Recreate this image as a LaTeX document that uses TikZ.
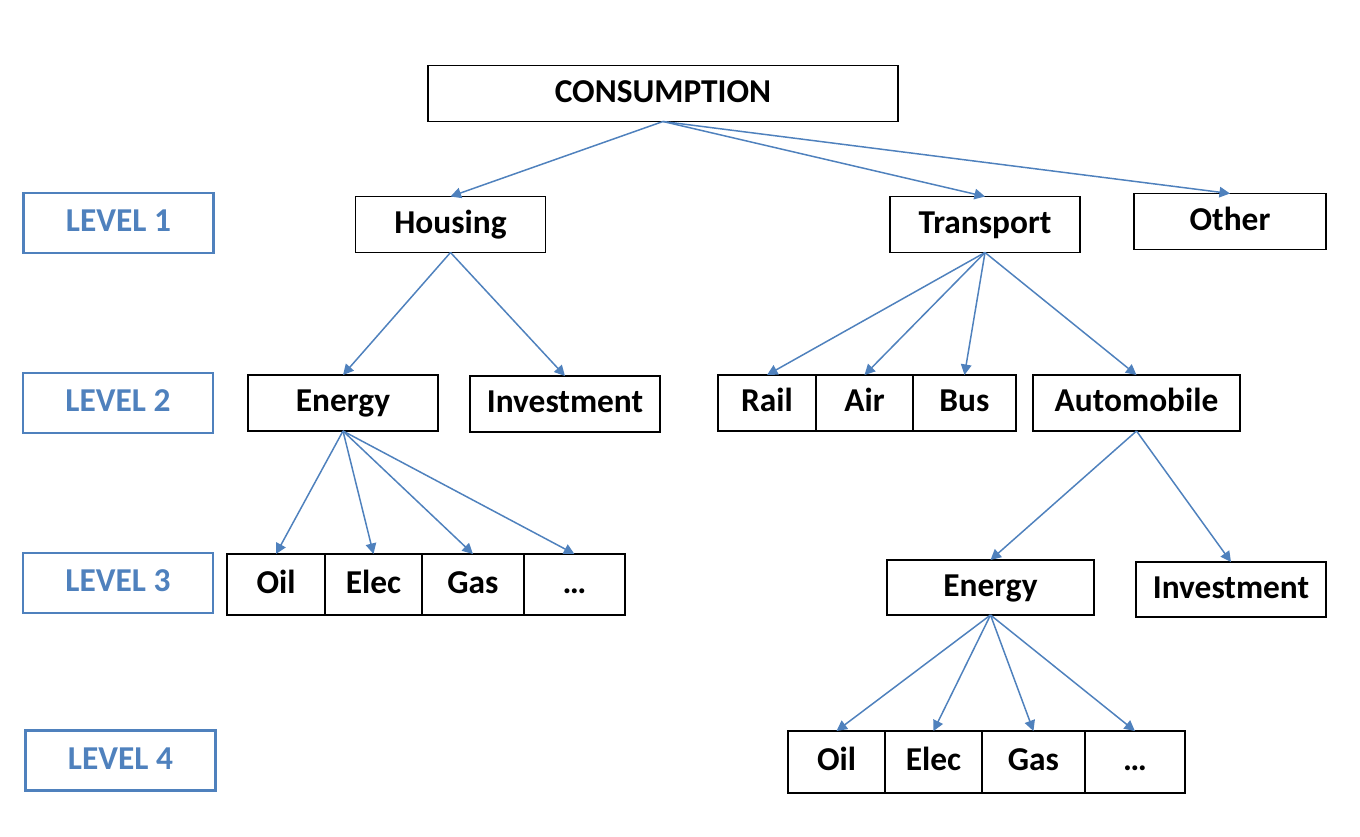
\documentclass[tikz,border=0pt]{standalone}
\usepackage{fontspec}
\setmainfont{Carlito}
\usetikzlibrary{positioning,arrows.meta}
\definecolor{lvlblue}{RGB}{79,129,189}
\begin{document}
\begin{tikzpicture}[
        x=0.02cm, y=-0.02cm,
        every node/.style={inner sep=0pt, outer sep=0pt, align=center,
            text height=13pt, text depth=3pt,
            font=\bfseries\fontsize{19}{22}\selectfont},
        box/.style={draw, line width=1.1pt, minimum width=3.8cm, minimum height=1.12cm},
        cell/.style={draw, line width=1.1pt, minimum height=1.2cm},
        lvl/.style={draw=lvlblue, text=lvlblue, line width=1.3pt, minimum width=3.8cm, minimum height=1.2cm},
        arr/.style={draw=lvlblue, line width=0.85pt, -{Triangle[length=6pt, width=6pt]}}
    ]
        \useasboundingbox (0,0) rectangle (1360,836);

        % levels
        \node [lvl] (L1) at (118.5,223) {LEVEL 1};
        \node [lvl] (L2) at (118,403) {LEVEL 2};
        \node [lvl] (L3) at (118,583) {LEVEL 3};
        \node [lvl] (L4) at (120.5,760.5) {LEVEL 4};

        % tree
        \node [box, minimum width=9.4cm] (cons) at (663,93.5) {CONSUMPTION};
        \node [box] (housing) at (450.5,224.5) {Housing};
        \node [box] (transport) at (985,224.5) {Transport};
        \node [box, minimum width=3.84cm] (other) at (1230,221.5) {Other};

        \node [box] (energy) at (343,403) {Energy};
        \node [box] (invest) at (565,404) {Investment};
        \node [cell, minimum width=1.96cm, minimum height=1.12cm] (rail) at (767,403) {Rail};
        \node [cell, minimum width=1.94cm, minimum height=1.12cm, right=0pt of rail] (air) {Air};
        \node [cell, minimum width=2.06cm, minimum height=1.12cm, right=0pt of air] (bus) {Bus};
        \node [box, minimum width=4.14cm] (auto) at (1136.5,403) {Automobile};

        \node [cell, minimum width=1.96cm, minimum height=1.22cm] (oilA) at (276,584.5) {Oil};
        \node [cell, minimum width=1.94cm, minimum height=1.22cm, right=0pt of oilA] (elecA) {Elec};
        \node [cell, minimum width=2.04cm, minimum height=1.22cm, right=0pt of elecA] (gasA) {Gas};
        \node [cell, minimum width=2.02cm, minimum height=1.22cm, right=0pt of gasA] (dotsA) {…};

        \node [box, minimum width=4.14cm, minimum height=1.1cm] (energyB) at (990.5,587.5) {Energy};
        \node [box, minimum height=1.1cm] (investB) at (1231,589.5) {Investment};

        \node [cell, minimum width=1.94cm, minimum height=1.24cm] (oilB) at (836.5,762) {Oil};
        \node [cell, minimum width=1.94cm, minimum height=1.24cm, right=0pt of oilB] (elecB) {Elec};
        \node [cell, minimum width=2.06cm, minimum height=1.24cm, right=0pt of elecB] (gasB) {Gas};
        \node [cell, minimum width=2.0cm, minimum height=1.24cm, right=0pt of gasB] (dotsB) {…};

        % links
        \foreach \t in {housing, transport, other}
            \draw [arr] (cons.south) -- (\t.north);
        \foreach \t in {energy, invest}
            \draw [arr] (housing.south) -- (\t.north);
        \foreach \t in {rail, air, bus, auto}
            \draw [arr] (transport.south) -- (\t.north);
        \foreach \t in {oilA, elecA, gasA, dotsA}
            \draw [arr] (energy.south) -- (\t.north);
        \foreach \t in {energyB, investB}
            \draw [arr] (auto.south) -- (\t.north);
        \foreach \t in {oilB, elecB, gasB, dotsB}
            \draw [arr] (energyB.south) -- (\t.north);
    \end{tikzpicture}
\end{document}
